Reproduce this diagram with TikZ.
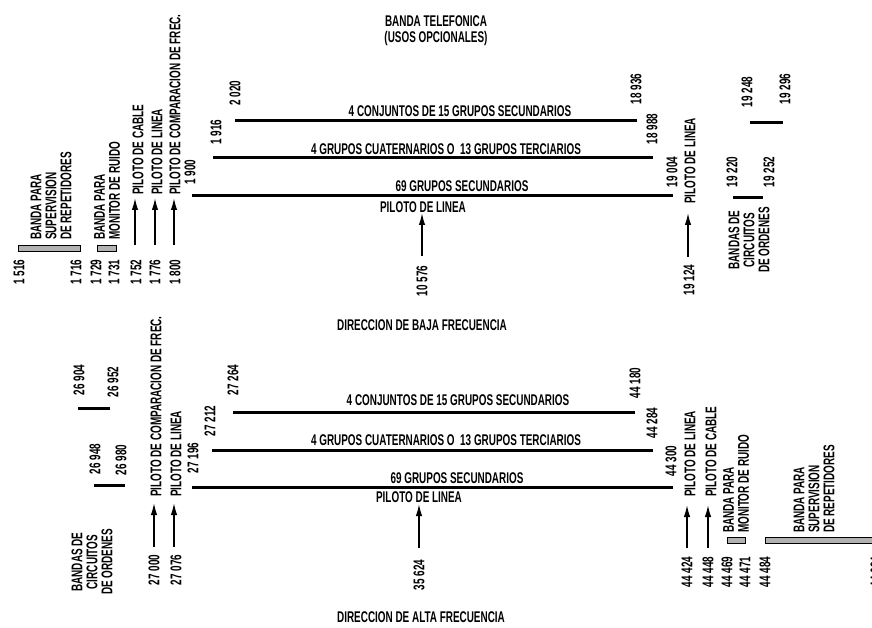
\documentclass[tikz,border=0pt]{standalone}
\usepackage{fontspec}
\setmainfont{Liberation Sans}[FakeStretch=0.64]
\usetikzlibrary{arrows.meta}
\newcommand\lbfont{\fontsize{15.5}{15}\selectfont\bfseries}
\tikzset{
  lbl/.style={font=\lbfont, inner sep=0pt},
  vlab/.style={lbl, rotate=90},
  vstart/.style={vlab, anchor=west},
  mline/.style={line width=3pt, line cap=butt},
  gband/.style={fill=gray!60, draw=black, line width=0.8pt},
  pil/.style={line width=1.5pt, -{Latex[length=12pt,width=6.5pt]}}
}
\begin{document}
\begin{tikzpicture}[x=1pt,y=-1pt]
\useasboundingbox (0,0) rectangle (872,628);
% ---------------- TOP: baja frecuencia ----------------
\node[lbl] (tit1) at (436,21) {BANDA TELEFONICA};
\node[lbl] (tit2) at (436,38) {(USOS OPCIONALES)};
% main lines
\coordinate (u1a) at (235,121); \coordinate (u1b) at (637,121);
\coordinate (u2a) at (213,158); \coordinate (u2b) at (653,158);
\coordinate (u3a) at (192,196); \coordinate (u3b) at (673,196);
\draw[mline] (u1a) -- (u1b);
\draw[mline] (u2a) -- (u2b);
\draw[mline] (u3a) -- (u3b);
\node[lbl] (ul1) at (460,111) {4 CONJUNTOS DE 15 GRUPOS SECUNDARIOS};
\node[lbl] (ul2) at (446,149) {4 GRUPOS CUATERNARIOS O\ \ 13 GRUPOS TERCIARIOS};
\node[lbl] (ul3) at (462,186) {69 GRUPOS SECUNDARIOS};
\node[lbl] (ul4) at (423,207) {PILOTO DE LINEA};
\node[vlab] (un1) at (235,93) {2 020};
\node[vlab] (un2) at (216,132) {1 916};
\node[vlab] (un3) at (190,172) {1 900};
\node[vlab] (un4) at (636,89) {18 936};
\node[vlab] (un5) at (652,129) {18 988};
\node[vlab] (un6) at (672,172) {19 004};
% central pilot
\coordinate (ua1s) at (422,256); \coordinate (ua1t) at (422,213);
\draw[pil] (ua1s) -- (ua1t);
\node[vlab] (un7) at (422,281) {10 576};
% right pilot
\coordinate (ua2s) at (688,257); \coordinate (ua2t) at (688,213);
\draw[pil] (ua2s) -- (ua2t);
\node[vstart] (ul5) at (690,204) {PILOTO DE LINEA};
\node[vlab] (un8) at (689,280) {19 124};
% order bands right
\coordinate (uoa) at (733,198); \coordinate (uob) at (763,198);
\coordinate (uoc) at (750,123); \coordinate (uod) at (783,123);
\draw[mline] (uoa) -- (uob);
\draw[mline] (uoc) -- (uod);
\node[vlab] (un9) at (732,172) {19 220};
\node[vlab] (un10) at (769,172) {19 252};
\node[vlab] (un11) at (747,92) {19 248};
\node[vlab] (un12) at (785,89) {19 296};
\node[vlab, align=center] (ul6) at (749,240) {BANDAS DE\\CIRCUITOS\\DE ORDENES};
% left bands
\path[gband] (18,245) rectangle (80,251);
\path[gband] (97,245) rectangle (116,251);
\node[vstart, align=left] (ul7) at (51,240) {BANDA PARA\\SUPERVISION\\DE REPETIDORES};
\node[vstart, align=left] (ul8) at (107,240) {BANDA PARA\\MONITOR DE RUIDO};
% left pilots
\coordinate (ua3s) at (135,245); \coordinate (ua3t) at (135,198);
\coordinate (ua4s) at (155,245); \coordinate (ua4t) at (155,198);
\coordinate (ua5s) at (174,245); \coordinate (ua5t) at (174,198);
\draw[pil] (ua3s) -- (ua3t);
\draw[pil] (ua4s) -- (ua4t);
\draw[pil] (ua5s) -- (ua5t);
\node[vstart] (ul9) at (138,195) {PILOTO DE CABLE};
\node[vstart] (ul10) at (157,195) {PILOTO DE LINEA};
\node[vstart] (ul11) at (175,195) {PILOTO DE COMPARACION DE FREC.};
\node[vlab] (un13) at (19,272) {1 516};
\node[vlab] (un14) at (76,272) {1 716};
\node[vlab] (un15) at (96,272) {1 729};
\node[vlab] (un16) at (114,272) {1 731};
\node[vlab] (un17) at (136,272) {1 752};
\node[vlab] (un18) at (155,272) {1 776};
\node[vlab] (un19) at (175,272) {1 800};
\node[lbl] (dir1) at (422,325) {DIRECCION DE BAJA FRECUENCIA};
% ---------------- BOTTOM: alta frecuencia ----------------
\coordinate (d1a) at (233,412); \coordinate (d1b) at (635,412);
\coordinate (d2a) at (212,450); \coordinate (d2b) at (653,450);
\coordinate (d3a) at (192,487); \coordinate (d3b) at (673,487);
\draw[mline] (d1a) -- (d1b);
\draw[mline] (d2a) -- (d2b);
\draw[mline] (d3a) -- (d3b);
\node[lbl] (dl1) at (458,400) {4 CONJUNTOS DE 15 GRUPOS SECUNDARIOS};
\node[lbl] (dl2) at (446,440) {4 GRUPOS CUATERNARIOS O\ \ 13 GRUPOS TERCIARIOS};
\node[lbl] (dl3) at (457,478) {69 GRUPOS SECUNDARIOS};
\node[lbl] (dl4) at (419,497) {PILOTO DE LINEA};
\node[vlab] (dn1) at (233,380) {27 264};
\node[vlab] (dn2) at (210,421) {27 212};
\node[vlab] (dn3) at (193,458) {27 196};
\node[vlab] (dn4) at (635,383) {44 180};
\node[vlab] (dn5) at (652,423) {44 284};
\node[vlab] (dn6) at (671,461) {44 300};
% central pilot
\coordinate (da1s) at (419,548); \coordinate (da1t) at (419,504);
\draw[pil] (da1s) -- (da1t);
\node[vlab] (dn7) at (419,575) {35 624};
% left order bands
\coordinate (doa) at (78,408); \coordinate (dob) at (110,408);
\coordinate (doc) at (94,485); \coordinate (dod) at (125,485);
\draw[mline] (doa) -- (dob);
\draw[mline] (doc) -- (dod);
\node[vlab] (dn8) at (79,380) {26 904};
\node[vlab] (dn9) at (113,382) {26 952};
\node[vlab] (dn10) at (95,459) {26 948};
\node[vlab] (dn11) at (121,460) {26 980};
\node[vlab, align=center] (dl5) at (92,562) {BANDAS DE\\CIRCUITOS\\DE ORDENES};
% left pilots
\coordinate (da2s) at (154,547); \coordinate (da2t) at (154,503);
\coordinate (da3s) at (174,547); \coordinate (da3t) at (174,503);
\draw[pil] (da2s) -- (da2t);
\draw[pil] (da3s) -- (da3t);
\node[vstart] (dl6) at (156,497) {PILOTO DE COMPARACION DE FREC.};
\node[vstart] (dl7) at (176,497) {PILOTO DE LINEA};
\node[vlab] (dn12) at (154,570) {27 000};
\node[vlab] (dn13) at (176,570) {27 076};
% right pilots
\coordinate (da4s) at (687,548); \coordinate (da4t) at (687,505);
\coordinate (da5s) at (708,548); \coordinate (da5t) at (708,505);
\draw[pil] (da4s) -- (da4t);
\draw[pil] (da5s) -- (da5t);
\node[vstart] (dl8) at (690,497) {PILOTO DE LINEA};
\node[vstart] (dl9) at (711,497) {PILOTO DE CABLE};
% right bands
\path[gband] (727,537) rectangle (745,543);
\path[gband] (765,537) rectangle (880,543);
\node[vstart, align=left] (dl10) at (736,533) {BANDA PARA\\MONITOR DE RUIDO};
\node[vstart, align=left] (dl11) at (814,533) {BANDA PARA\\SUPERVISION\\DE REPETIDORES};
\node[vlab] (dn14) at (687,572) {44 424};
\node[vlab] (dn15) at (708,572) {44 448};
\node[vlab] (dn16) at (727,572) {44 469};
\node[vlab] (dn17) at (745,572) {44 471};
\node[vlab] (dn18) at (765,572) {44 484};
\node[vlab] (dn19) at (876,572) {44 684};
\node[lbl] (dir2) at (421,617) {DIRECCION DE ALTA FRECUENCIA};
\end{tikzpicture}
\end{document}
